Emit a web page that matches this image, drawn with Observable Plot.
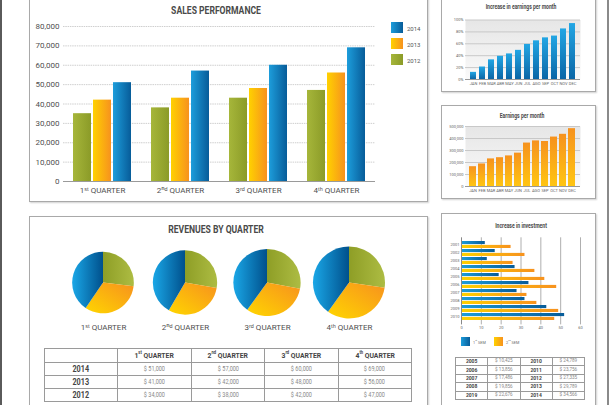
<!DOCTYPE html>
<html>
<head>
<meta charset="utf-8">
<script src="https://cdn.jsdelivr.net/npm/d3@7"></script>
<script src="https://cdn.jsdelivr.net/npm/@observablehq/plot@0.6"></script>
<style>
html,body{margin:0;padding:0;background:#fff;}
#page{position:relative;width:610px;height:405px;overflow:hidden;background:#fff;font-family:Roboto,'Liberation Sans',sans-serif;}
.panel{position:absolute;box-sizing:border-box;border:1.5px solid #a9a9a9;background:#fff;box-shadow:1px 1px 1.5px rgba(0,0,0,0.18);}
.chart{position:absolute;}
.title{position:absolute;font-weight:bold;color:#4a4a4a;white-space:nowrap;transform:translate(-50%,-50%) scaleX(0.78);}
.sw{position:absolute;}
.lbl{position:absolute;color:#555;white-space:nowrap;transform:translateY(-50%);}
table{position:absolute;border-collapse:collapse;table-layout:fixed;}
td{border:1px solid #9a9a9a;text-align:center;padding:0;white-space:nowrap;overflow:hidden;line-height:1;}
td span{display:inline-block;transform:scaleX(0.85);}
sup{font-size:60%;vertical-align:top;position:relative;top:-1px;}
</style>
</head>
<body>
<div id="page"></div>
<script>
// ---------- data ----------
const quarters = ["Q1", "Q2", "Q3", "Q4"];
const quarterLabels = ["1ˢᵗ QUARTER", "2ⁿᵈ QUARTER", "3ʳᵈ QUARTER", "4ᵗʰ QUARTER"];
const quarterHeaders = ["1<sup>st</sup> QUARTER", "2<sup>nd</sup> QUARTER", "3<sup>rd</sup> QUARTER", "4<sup>th</sup> QUARTER"];
const years = ["2012", "2013", "2014"];
const sales2012 = [35000, 38000, 43000, 47000];
const sales2013 = [42000, 43000, 48000, 56000];
const sales2014 = [51000, 57000, 60000, 69000];
const salesTicks = [0, 10000, 20000, 30000, 40000, 50000, 60000, 70000, 80000];

const revenue2012 = [34000, 38000, 42000, 47000];
const revenue2013 = [41000, 42000, 48000, 56000];
const revenue2014 = [51000, 57000, 60000, 69000];

const months = ["JAN", "FEB", "MAR", "ABR", "MAY", "JUN", "JUL", "AGO", "SEP", "OCT", "NOV", "DEC"];
const earningsIncrease = [12, 21, 33, 39, 43, 49, 59, 65, 70, 73, 85, 94];
const percentTicks = [0, 20, 40, 60, 80, 100];
const earnings = [165000, 188000, 230000, 240000, 255000, 278000, 362000, 380000, 375000, 412000, 435000, 482000];
const earningsTicks = [0, 100000, 200000, 300000, 400000, 500000];

const invYears = ["2001", "2002", "2003", "2004", "2005", "2006", "2007", "2008", "2009", "2010"];
const invSem1 = [12, 17, 13, 27, 19, 34, 28, 32, 43, 52];
const invSem2 = [25, 32, 26, 37, 42, 48, 33, 38, 49, 47];
const invTicks = [0, 10, 20, 30, 40, 50, 60];

const smallYearsA = ["2005", "2006", "2007", "2008", "2019"];
const smallValuesA = ["$ 10,425", "$ 13,856", "$ 17,486", "$ 19,856", "$ 22,676"];
const smallYearsB = ["2010", "2011", "2012", "2013", "2014"];
const smallValuesB = ["$ 24,789", "$ 23,756", "$ 27,335", "$ 29,789", "$ 34,566"];

// ---------- helpers ----------
const F = "Roboto,'Liberation Sans',sans-serif";
const comma = d3.format(",");
const page = document.getElementById("page");
function add(html) { const t = document.createElement("div"); t.innerHTML = html; const el = t.firstElementChild; page.appendChild(el); return el; }
function box(cls, l, t, w, h, extra = "") { return add(`<div class="${cls}" style="left:${l}px;top:${t}px;width:${w}px;height:${h}px;${extra}"></div>`); }
function title(text, x, y, size) { return add(`<div class="title" style="left:${x}px;top:${y}px;font-size:${size}px">${text}</div>`); }
function chart(svg, l, t) { svg.classList.add("chart"); svg.style.left = l + "px"; svg.style.top = t + "px"; page.appendChild(svg); }

// gradients
add(`<svg width="0" height="0" style="position:absolute;left:0;top:0"><defs>
<linearGradient id="gBlue" x1="0" y1="0" x2="1" y2="0"><stop offset="0" stop-color="#1d9ddb"/><stop offset="1" stop-color="#075c99"/></linearGradient>
<linearGradient id="gOrange" x1="0" y1="0" x2="1" y2="0"><stop offset="0" stop-color="#ffd100"/><stop offset="1" stop-color="#f7921e"/></linearGradient>
<linearGradient id="gGreen" x1="0" y1="0" x2="1" y2="0"><stop offset="0" stop-color="#a6b63a"/><stop offset="1" stop-color="#8b9b28"/></linearGradient>
<linearGradient id="gBlueV" x1="0" y1="0" x2="0" y2="1"><stop offset="0" stop-color="#22a6e4"/><stop offset="1" stop-color="#0b66a6"/></linearGradient>
<linearGradient id="gOrangeV" x1="0" y1="0" x2="0" y2="1"><stop offset="0" stop-color="#f6921e"/><stop offset="1" stop-color="#ffc512"/></linearGradient>
<linearGradient id="gBg" x1="0" y1="0" x2="0" y2="1"><stop offset="0" stop-color="#e6e6e6"/><stop offset="1" stop-color="#fafafa"/></linearGradient>
<linearGradient id="pBlue" x1="0" y1="0" x2="1" y2="0"><stop offset="0" stop-color="#1aa7e7"/><stop offset="1" stop-color="#00508c"/></linearGradient>
<linearGradient id="pOrange" x1="0" y1="1" x2="1" y2="0"><stop offset="0" stop-color="#ffd600"/><stop offset="1" stop-color="#f7911e"/></linearGradient>
<linearGradient id="pGreen" x1="0" y1="0" x2="1" y2="0"><stop offset="0" stop-color="#8e9e26"/><stop offset="1" stop-color="#adbc43"/></linearGradient>
</defs></svg>`);

// page edges
box("sw", 0, 0, 2, 405, "background:#5a5a5a");
box("sw", 607, 0, 1.5, 405, "background:#8a8a8a");

// panels
box("panel", 29, -6, 399, 208);
box("panel", 29, 216, 399, 200);
box("panel", 441, -6, 155, 98);
box("panel", 441, 105, 155, 94);
box("panel", 441, 213, 155, 200);

// ---------- Sales performance ----------
title("SALES PERFORMANCE", 216, 10, 11);
const salesData = quarters.flatMap((q, i) => [
  {quarter: q, year: "2012", value: sales2012[i]},
  {quarter: q, year: "2013", value: sales2013[i]},
  {quarter: q, year: "2014", value: sales2014[i]}
]);
chart(Plot.plot({
  width: 380, height: 200,
  marginLeft: 62, marginRight: 4, marginTop: 26, marginBottom: 19,
  style: {fontFamily: F, fontSize: "8px", color: "#4f4f4f", background: "transparent", overflow: "visible"},
  fx: {domain: quarters, padding: 0, axis: "bottom", label: null, tickSize: 0, tickPadding: 6, tickFormat: d => quarterLabels[quarters.indexOf(d)]},
  x: {domain: years, axis: null, paddingInner: 0.1, paddingOuter: 0.41},
  y: {domain: [0, 80000], ticks: salesTicks, tickFormat: comma, label: null, tickSize: 0, tickPadding: 4},
  marks: [
    Plot.gridY(salesTicks, {stroke: "#cfcfcf", strokeOpacity: 1, strokeDasharray: "1.5,0.8"}),
    Plot.barY(salesData.filter(d => d.year === "2012"), {fx: "quarter", x: "year", y: "value", fill: "url(#gGreen)"}),
    Plot.barY(salesData.filter(d => d.year === "2013"), {fx: "quarter", x: "year", y: "value", fill: "url(#gOrange)"}),
    Plot.barY(salesData.filter(d => d.year === "2014"), {fx: "quarter", x: "year", y: "value", fill: "url(#gBlue)"}),
    Plot.ruleY([0], {stroke: "#9a9a9a", strokeWidth: 1.2})
  ]
}), 0, 0);
// legend
const legendGrad = {"2014": "linear-gradient(90deg,#1d9ddb,#075c99)", "2013": "linear-gradient(90deg,#ffd100,#f7921e)", "2012": "linear-gradient(90deg,#a6b63a,#8b9b28)"};
[["2014", 22], ["2013", 38], ["2012", 54]].forEach(([y, t]) => {
  add(`<div class="sw" style="left:391px;top:${t}px;width:12px;height:10.5px;background:${legendGrad[y]}"></div>`);
  add(`<div class="lbl" style="left:407px;top:${t + 5.5}px;font-size:6px">${y}</div>`);
});

// ---------- Revenues by quarter ----------
title("REVENUES BY QUARTER", 216, 229, 11);
const pieData = quarters.map((q, i) => ({
  quarter: q,
  parts: [revenue2012[i], revenue2013[i], revenue2014[i]],
  total: revenue2012[i] + revenue2013[i] + revenue2014[i]
}));
const pieFills = ["url(#pGreen)", "url(#pOrange)", "url(#pBlue)"];
chart(Plot.plot({
  width: 430, height: 95,
  marginLeft: 62, marginRight: 40, marginTop: 0, marginBottom: 12,
  style: {fontFamily: F, fontSize: "8px", color: "#4f4f4f", background: "transparent", overflow: "visible"},
  x: {type: "band", domain: quarters, padding: 0, label: null, tickSize: 0, tickPadding: 0, tickFormat: d => quarterLabels[quarters.indexOf(d)]},
  y: {domain: [0, 1], axis: null},
  r: {domain: [0, d3.max(pieData, d => d.total)], range: [0, 36]},
  marks: [
    Plot.dot(pieData, {x: "quarter", y: 0.5, r: "total", fill: "none", stroke: "none"}),
    (index, scales) => {
      const g = d3.create("svg:g");
      const pie = d3.pie().sort(null);
      const half = typeof scales.x.bandwidth === "function" ? scales.x.bandwidth() / 2 : 0;
      for (const d of pieData) {
        const cx = scales.x(d.quarter) + half, cy = scales.y(0.5), r = scales.r(d.total);
        const arc = d3.arc().innerRadius(0).outerRadius(r);
        const sg = g.append("g").attr("transform", `translate(${cx},${cy})`);
        pie(d.parts).forEach((s, i) => sg.append("path").attr("d", arc(s)).attr("fill", pieFills[i]));
      }
      return g.node();
    }
  ]
}), 0, 240.5);

// main table
{
  const rows = [["2014", revenue2014], ["2013", revenue2013], ["2012", revenue2012]];
  let h = `<table style="left:44px;top:348px;width:367px;font-family:${F}"><colgroup>${"<col style='width:73.4px'>".repeat(5)}</colgroup>`;
  h += `<tr style="height:14px"><td></td>${quarterHeaders.map(q => `<td style="font-weight:bold;font-size:8px;color:#444"><span>${q}</span></td>`).join("")}</tr>`;
  rows.forEach(([y, vals]) => {
    h += `<tr style="height:13px"><td style="font-weight:bold;font-size:8.5px;color:#444"><span>${y}</span></td>${vals.map(v => `<td style="font-size:6.5px;color:#888"><span>$ ${comma(v)}</span></td>`).join("")}</tr>`;
  });
  h += "</table>";
  add(h);
}

// ---------- Increase in earnings per month ----------
title("Increase in earnings per month", 521, 7, 6.5);
const incData = months.map((m, i) => ({month: m, value: earningsIncrease[i]}));
chart(Plot.plot({
  width: 160, height: 92,
  marginLeft: 25, marginRight: 20, marginTop: 19.5, marginBottom: 13,
  style: {fontFamily: F, fontSize: "4px", color: "#666", background: "transparent", overflow: "visible"},
  x: {domain: months, padding: 0.32},
  y: {domain: [0, 100]},
  marks: [
    Plot.frame({fill: "url(#gBg)", stroke: null}),
    Plot.gridY(percentTicks, {stroke: "#c8c8c8", strokeOpacity: 1}),
    Plot.barY(incData, {x: "month", y: "value", fill: "url(#gBlueV)"}),
    Plot.ruleY([0], {stroke: "#999"}),
    Plot.axisX({tickSize: 0, tickPadding: 2.5, label: null}),
    Plot.axisY(percentTicks, {tickSize: 0, tickPadding: 2, label: null, tickFormat: d => d + "%"})
  ]
}), 440, 0);

// ---------- Earnings per month ----------
title("Earnings per month", 522, 116, 6.5);
const earnData = months.map((m, i) => ({month: m, value: earnings[i]}));
chart(Plot.plot({
  width: 160, height: 100,
  marginLeft: 25, marginRight: 20, marginTop: 26, marginBottom: 14,
  style: {fontFamily: F, fontSize: "4px", color: "#666", background: "transparent", overflow: "visible"},
  x: {domain: months, padding: 0.2},
  y: {domain: [0, 500000]},
  marks: [
    Plot.frame({fill: "url(#gBg)", stroke: null}),
    Plot.gridY(earningsTicks, {stroke: "#c8c8c8", strokeOpacity: 1}),
    Plot.barY(earnData, {x: "month", y: "value", fill: "url(#gOrangeV)"}),
    Plot.ruleY([0], {stroke: "#999"}),
    Plot.axisX({tickSize: 0, tickPadding: 2.5, label: null}),
    Plot.axisY(earningsTicks, {tickSize: 0, tickPadding: 2, label: null, tickFormat: comma})
  ]
}), 440, 100);

// ---------- Increase in investment ----------
title("Increase in investment", 521, 226, 6.5);
const invData = invYears.map((y, i) => ({year: y, s1: invSem1[i], s2: invSem2[i]}));
chart(Plot.plot({
  width: 160, height: 120,
  marginLeft: 21, marginRight: 20, marginTop: 22.3, marginBottom: 10.6,
  style: {fontFamily: F, fontSize: "4px", color: "#666", background: "transparent", overflow: "visible"},
  x: {domain: [0, 60]},
  y: {domain: invYears, padding: 0.1},
  marks: [
    Plot.gridX(invTicks.slice(1), {stroke: "#9a9a9a", strokeOpacity: 1, strokeWidth: 0.8}),
    Plot.barX(invData, {y: "year", x: "s1", fill: "url(#gBlue)", insetBottom: 3.9}),
    Plot.barX(invData, {y: "year", x: "s2", fill: "url(#gOrange)", insetTop: 3.9}),
    Plot.ruleX([0], {stroke: "#888"}),
    Plot.axisX(invTicks, {tickSize: 0, tickPadding: 1.5, label: null}),
    Plot.axisY({tickSize: 0, tickPadding: 2, label: null})
  ]
}), 440, 215);
add(`<div class="sw" style="left:461px;top:337px;width:9px;height:9px;background:linear-gradient(90deg,#1d9ddb,#075c99)"></div>`);
add(`<div class="lbl" style="left:473px;top:342px;font-size:3.8px;color:#666">1<sup>st</sup> SEM</div>`);
add(`<div class="sw" style="left:494px;top:337px;width:9px;height:9px;background:linear-gradient(90deg,#ffd100,#f7921e)"></div>`);
add(`<div class="lbl" style="left:506px;top:342px;font-size:3.8px;color:#666">2<sup>nd</sup> SEM</div>`);

// small table
{
  let h = `<table style="left:455px;top:357px;width:129px;font-family:${F}"><colgroup>${"<col style='width:32.25px'>".repeat(4)}</colgroup>`;
  smallYearsA.forEach((y, i) => {
    h += `<tr style="height:8.4px"><td style="font-weight:bold;font-size:5px;color:#444">${y}</td><td style="font-size:4.6px;color:#888">${smallValuesA[i]}</td><td style="font-weight:bold;font-size:5px;color:#444">${smallYearsB[i]}</td><td style="font-size:4.6px;color:#888">${smallValuesB[i]}</td></tr>`;
  });
  h += "</table>";
  add(h);
}
</script>
</body>
</html>
